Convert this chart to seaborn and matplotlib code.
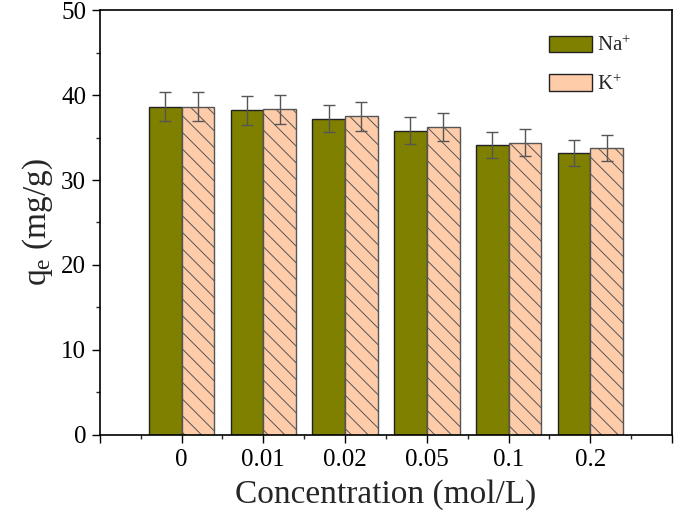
import pandas as pd
import matplotlib
matplotlib.use('Agg')
import matplotlib.pyplot as plt
from matplotlib.ticker import MultipleLocator, FixedLocator
import seaborn as sns

# valores
concentracoes = ['0', '0.01', '0.02', '0.05', '0.1', '0.2']
qe_na = [38.6, 38.2, 37.2, 35.8, 34.1, 33.2]
qe_k = [38.6, 38.3, 37.5, 36.2, 34.4, 33.8]
erro_na = [1.7, 1.7, 1.6, 1.6, 1.5, 1.5]
erro_k = [1.7, 1.7, 1.7, 1.65, 1.6, 1.55]
ions = ['Na$^{\\mathregular{+}}$', 'K$^{\\mathregular{+}}$']

cores = ['#808000', '#FFCCAA']

sns.set_style('ticks')
plt.rcParams['font.family'] = ['Liberation Serif', 'DejaVu Serif']
plt.rcParams['mathtext.fontset'] = 'custom'
plt.rcParams['mathtext.rm'] = 'Liberation Serif'
plt.rcParams['mathtext.it'] = 'Liberation Serif:italic'
plt.rcParams['hatch.linewidth'] = 0.7

df = pd.DataFrame({
    'conc': concentracoes * 2,
    'qe': qe_na + qe_k,
    'ion': [ions[0]] * len(concentracoes) + [ions[1]] * len(concentracoes),
})
erros = {ions[0]: erro_na, ions[1]: erro_k}

fig = plt.figure(figsize=(6.75, 5.27), dpi=100)
ax = fig.add_axes([0.148, 0.1746, 0.8476, 0.8064])

sns.barplot(data=df, x='conc', y='qe', hue='ion', order=concentracoes,
            hue_order=ions, palette=cores, errorbar=None, width=0.8,
            edgecolor='#222222', linewidth=1.0, saturation=1, ax=ax)

# hachura nas barras de K+ e barras de erro
for cont, ion in zip(ax.containers, ions):
    centros = [b.get_x() + b.get_width() / 2 for b in cont]
    alturas = [b.get_height() for b in cont]
    if ion == ions[1]:
        for b in cont:
            b.set_hatch('\\\\')
            b.set_edgecolor('#555555')
    ax.errorbar(centros, alturas, yerr=erros[ion], fmt='none', ecolor='#555555',
                elinewidth=1.0, capsize=4, capthick=1.0, zorder=5)

ax.set_xlim(-1, 6)
ax.set_ylim(0, 50)
ax.xaxis.set_major_locator(FixedLocator(range(-1, 7)))
ax.set_xticklabels([''] + concentracoes + [''])
ax.xaxis.set_minor_locator(FixedLocator([i + 0.5 for i in range(-1, 6)]))
ax.yaxis.set_major_locator(MultipleLocator(10))
ax.yaxis.set_minor_locator(MultipleLocator(5))

ax.tick_params(axis='both', which='major', length=6, width=1.0, labelsize=18,
               pad=4, color='black', labelcolor='black')
ax.tick_params(axis='both', which='minor', length=3, width=1.0)
ax.tick_params(top=False, right=False)

for s in ax.spines.values():
    s.set_visible(True)
    s.set_linewidth(1.2)
    s.set_color('black')

ax.set_xlabel('Concentration (mol/L)', fontsize=24, labelpad=6)
ax.set_ylabel(r'q$_\mathregular{e}$ (mg/g)', fontsize=24, labelpad=4)

ax.legend(loc='upper left', bbox_to_anchor=(0.785, 0.94), frameon=False,
          fontsize=15, handlelength=2.07, handleheight=0.87, labelspacing=0.85,
          handletextpad=0.25, borderpad=0, borderaxespad=0)

fig.savefig('out.png', dpi=100)
